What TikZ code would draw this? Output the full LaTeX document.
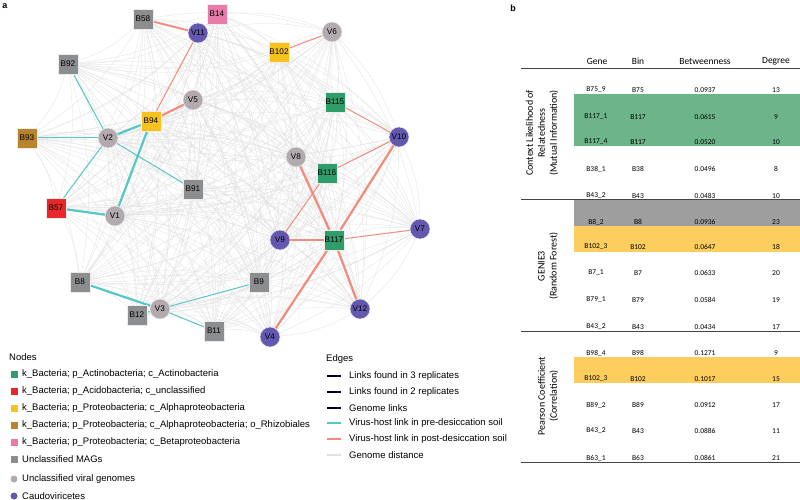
\documentclass[tikz,border=0pt]{standalone}
\usepackage{fontspec}
\setmainfont{Liberation Sans}
\newfontfamily\calfont{Carlito}
\pgfdeclarelayer{back}
\pgfdeclarelayer{bg}
\pgfsetlayers{back,bg,main}
\definecolor{cgreen}{HTML}{2F9D6A}
\definecolor{cred}{HTML}{E8272B}
\definecolor{cyellow}{HTML}{F8C21C}
\definecolor{cbrown}{HTML}{B7832B}
\definecolor{cpink}{HTML}{E97BAA}
\definecolor{cgray}{HTML}{8B8D8F}
\definecolor{cvir}{HTML}{B3AAB0}
\definecolor{cpurple}{HTML}{6358B0}
\definecolor{cteal}{HTML}{55C7C6}
\definecolor{csalmon}{HTML}{F38B7B}
\definecolor{cdist}{HTML}{E2E2E2}
\definecolor{tgreen}{HTML}{6CB58A}
\definecolor{tgray}{HTML}{9E9E9E}
\definecolor{tyellow}{HTML}{FDCD5E}
\definecolor{tline}{HTML}{444444}
\tikzset{
  mag/.style={rectangle, minimum size=20pt, inner sep=0pt, draw=white!85!gray, line width=0.5pt, font=\fontsize{8.2}{9}\selectfont},
  vir/.style={circle, minimum size=20pt, inner sep=0pt, draw=white!85!gray, line width=0.5pt, font=\fontsize{8.2}{9}\selectfont},
  gdist/.style={cdist, line width=0.3pt},
  pre/.style={cteal, line width=1pt},
  prethick/.style={cteal, line width=2.2pt},
  post/.style={csalmon, line width=1pt},
  postthick/.style={csalmon, line width=2.2pt},
  legtxt/.style={anchor=west, inner sep=0pt, font=\fontsize{9.5}{11}\selectfont},
  legsq/.style={rectangle, minimum size=7pt, inner sep=0pt},
  legci/.style={circle, minimum size=7pt, inner sep=0pt},
  thd/.style={font=\calfont\fontsize{9.5}{11}\selectfont, inner sep=0pt},
  tcell/.style={font=\calfont\fontsize{7.5}{9}\selectfont, inner sep=0pt},
  glabel/.style={rotate=90, align=center, font=\calfont\fontsize{10}{12}\selectfont, inner sep=0pt},
  tabline/.style={tline, line width=0.9pt},
}
\begin{document}
\begin{tikzpicture}[x=1pt, y=-1pt]
\useasboundingbox (0,0) rectangle (800,500);
\begin{pgfonlayer}{back}
  \fill[white] (0,0) rectangle (800,500);
\end{pgfonlayer}

% panel labels
\node[font=\bfseries\fontsize{9}{10}\selectfont, inner sep=0pt] (pa) at (5,6) {a};
\node[font=\bfseries\fontsize{9}{10}\selectfont, inner sep=0pt] (pb) at (513,8) {b};

% network nodes
\node[mag,fill=cpink] (B14) at (217,14) {B14};
\node[mag,fill=cgray] (B58) at (143,19) {B58};
\node[vir,fill=cpurple] (V11) at (198,33) {V11};
\node[mag,fill=cyellow] (B102) at (279,52) {B102};
\node[vir,fill=cvir] (V6) at (332,32) {V6};
\node[mag,fill=cgray] (B92) at (68,64) {B92};
\node[vir,fill=cvir] (V5) at (193,100) {V5};
\node[mag,fill=cyellow] (B94) at (151,121) {B94};
\node[mag,fill=cgreen] (B115) at (335,102) {B115};
\node[vir,fill=cpurple] (V10) at (399,137) {V10};
\node[mag,fill=cbrown] (B93) at (27,138) {B93};
\node[vir,fill=cvir] (V2) at (108,138) {V2};
\node[vir,fill=cvir] (V8) at (296,157) {V8};
\node[mag,fill=cgreen] (B116) at (327,173) {B116};
\node[mag,fill=cgray] (B91) at (193,189) {B91};
\node[mag,fill=cred] (B57) at (56,208) {B57};
\node[vir,fill=cvir] (V1) at (115,216) {V1};
\node[vir,fill=cpurple] (V9) at (280,240) {V9};
\node[mag,fill=cgreen] (B117) at (334,240) {B117};
\node[vir,fill=cpurple] (V7) at (420,229) {V7};
\node[mag,fill=cgray] (B8) at (80,282) {B8};
\node[mag,fill=cgray] (B9) at (259,282) {B9};
\node[mag,fill=cgray] (B12) at (137,315) {B12};
\node[vir,fill=cvir] (V3) at (160,309) {V3};
\node[mag,fill=cgray] (B11) at (214,331) {B11};
\node[vir,fill=cpurple] (V12) at (360,309) {V12};
\node[vir,fill=cpurple] (V4) at (270,337) {V4};

\def\allnodes{B14,B58,V11,B102,V6,B92,V5,B94,B115,V10,B93,V2,V8,B116,B91,B57,V1,V9,B117,V7,B8,B9,B12,V3,B11,V12,V4}

\begin{pgfonlayer}{bg}
  \foreach \a [count=\i] in \allnodes {
    \foreach \b [count=\j] in \allnodes {
      \ifnum\j>\i
        \draw[gdist] (\a) to[bend left=12] (\b);
      \fi
    }
  }
  % pre-desiccation links
  \draw[pre] (B92) -- (V2);
  \draw[pre] (B93) -- (V2);
  \draw[prethick] (V2) -- (B94);
  \draw[pre] (V2) -- (B91);
  \draw[pre] (V2) -- (B57);
  \draw[prethick] (B94) -- (V1);
  \draw[prethick] (B57) -- (V1);
  \draw[prethick] (B8) -- (V3);
  \draw[pre] (V3) -- (B12);
  \draw[pre] (V3) -- (B11);
  \draw[pre] (V3) -- (B9);
  % post-desiccation links
  \draw[post, line width=1.8pt] (B58) -- (V11);
  \draw[post] (V11) -- (B94);
  \draw[postthick] (B94) -- (V5);
  \draw[post] (B102) -- (V6);
  \draw[post] (B115) -- (V10);
  \draw[post] (B116) -- (V10);
  \draw[postthick] (V10) -- (B117);
  \draw[postthick] (V8) -- (B117);
  \draw[post] (B116) -- (V9);
  \draw[postthick] (V9) -- (B117);
  \draw[post] (B117) -- (V7);
  \draw[postthick] (B117) -- (V12);
  \draw[postthick] (B117) -- (V4);
\end{pgfonlayer}

% Nodes legend
\node[legtxt] (lnodes) at (9,357) {Nodes};
\node[legsq,fill=cgreen] (m1) at (14,374) {};
\node[legtxt] (t1) at (22,374) {k\_Bacteria; p\_Actinobacteria; c\_Actinobacteria};
\node[legsq,fill=cred] (m2) at (14,391) {};
\node[legtxt] (t2) at (22,391) {k\_Bacteria; p\_Acidobacteria; c\_unclassified};
\node[legsq,fill=cyellow] (m3) at (14,408) {};
\node[legtxt] (t3) at (22,408) {k\_Bacteria; p\_Proteobacteria; c\_Alphaproteobacteria};
\node[legsq,fill=cbrown] (m4) at (14,425) {};
\node[legtxt] (t4) at (22,425) {k\_Bacteria; p\_Proteobacteria; c\_Alphaproteobacteria; o\_Rhizobiales};
\node[legsq,fill=cpink] (m5) at (14,442) {};
\node[legtxt] (t5) at (22,442) {k\_Bacteria; p\_Proteobacteria; c\_Betaproteobacteria};
\node[legsq,fill=cgray] (m6) at (14,459) {};
\node[legtxt] (t6) at (22,459) {Unclassified MAGs};
\node[legci,fill=cvir] (m7) at (14,479) {};
\node[legtxt] (t7) at (22,479) {Unclassified viral genomes};
\node[legci,fill=cpurple] (m8) at (14,496) {};
\node[legtxt] (t8) at (22,496) {Caudoviricetes};

% Edges legend
\node[legtxt] (ledges) at (326,359) {Edges};
\coordinate (ea1) at (327,376); \coordinate (eb1) at (341,376);
\coordinate (ea2) at (327,392); \coordinate (eb2) at (341,392);
\coordinate (ea3) at (327,408); \coordinate (eb3) at (341,408);
\coordinate (ea4) at (327,423); \coordinate (eb4) at (341,423);
\coordinate (ea5) at (327,439); \coordinate (eb5) at (341,439);
\coordinate (ea6) at (327,455); \coordinate (eb6) at (341,455);
\draw[black!90!blue, line width=2.4pt] (ea1) -- (eb1);
\draw[black!90!blue, line width=1.6pt] (ea2) -- (eb2);
\draw[black!90!blue, line width=1.2pt] (ea3) -- (eb3);
\draw[cteal, line width=1.4pt] (ea4) -- (eb4);
\draw[csalmon, line width=1.4pt] (ea5) -- (eb5);
\draw[cdist, line width=1.2pt] (ea6) -- (eb6);
\node[legtxt] (et1) at (349,376) {Links found in 3 replicates};
\node[legtxt] (et2) at (349,392) {Links found in 2 replicates};
\node[legtxt] (et3) at (349,408) {Genome links};
\node[legtxt] (et4) at (349,423) {Virus-host link in pre-desiccation soil};
\node[legtxt] (et5) at (349,439) {Virus-host link in post-desiccation soil};
\node[legtxt] (et6) at (349,455) {Genome distance};

% Table bands
\fill[tgreen] (574,94) rectangle (800,146);
\fill[tgray] (574,199) rectangle (800,226);
\fill[tyellow] (574,226) rectangle (800,252);
\fill[tyellow] (574,357) rectangle (800,383);

% Table rules
\draw[tabline] (521,68) -- (800,68);
\draw[tabline] (521,199) -- (800,199);
\draw[tabline] (521,331) -- (800,331);
\draw[tabline] (521,462) -- (800,462);

% headers
\node[thd] (hg) at (597,61) {Gene};
\node[thd] (hb) at (638,61) {Bin};
\node[thd] (hbt) at (705,61) {Betweenness};
\node[thd] (hd) at (776,61) {Degree};

% group labels
\node[glabel] (g1) at (542,133) {Context Likelihood of\\Relatedness\\(Mutual Information)};
\node[glabel] (g2) at (548,266) {GENIE3\\(Random Forest)};
\node[glabel] (g3) at (548,396) {Pearson Coefficient\\(Correlation)};

% rows
\foreach \y/\g/\bn/\bt/\d in {
  90/B75\_9/B75/0.0937/13,
  117/B117\_1/B117/0.0615/9,
  142/B117\_4/B117/0.0520/10,
  169/B38\_1/B38/0.0496/8,
  196/B43\_2/B43/0.0483/10,
  222/B8\_2/B8/0.0936/23,
  247/B102\_3/B102/0.0647/18,
  273/B7\_1/B7/0.0633/20,
  300/B79\_1/B79/0.0584/19,
  327/B43\_2/B43/0.0434/17,
  353/B98\_4/B98/0.1271/9,
  379/B102\_3/B102/0.1017/15,
  405/B89\_2/B89/0.0912/17,
  431/B43\_2/B43/0.0886/11,
  458/B63\_1/B63/0.0861/21} {
  \node[tcell] at (596,\y) {\g};
  \node[tcell] at (638,\y) {\bn};
  \node[tcell] at (705,\y) {\bt};
  \node[tcell] at (776,\y) {\d};
}
\end{tikzpicture}
\end{document}
